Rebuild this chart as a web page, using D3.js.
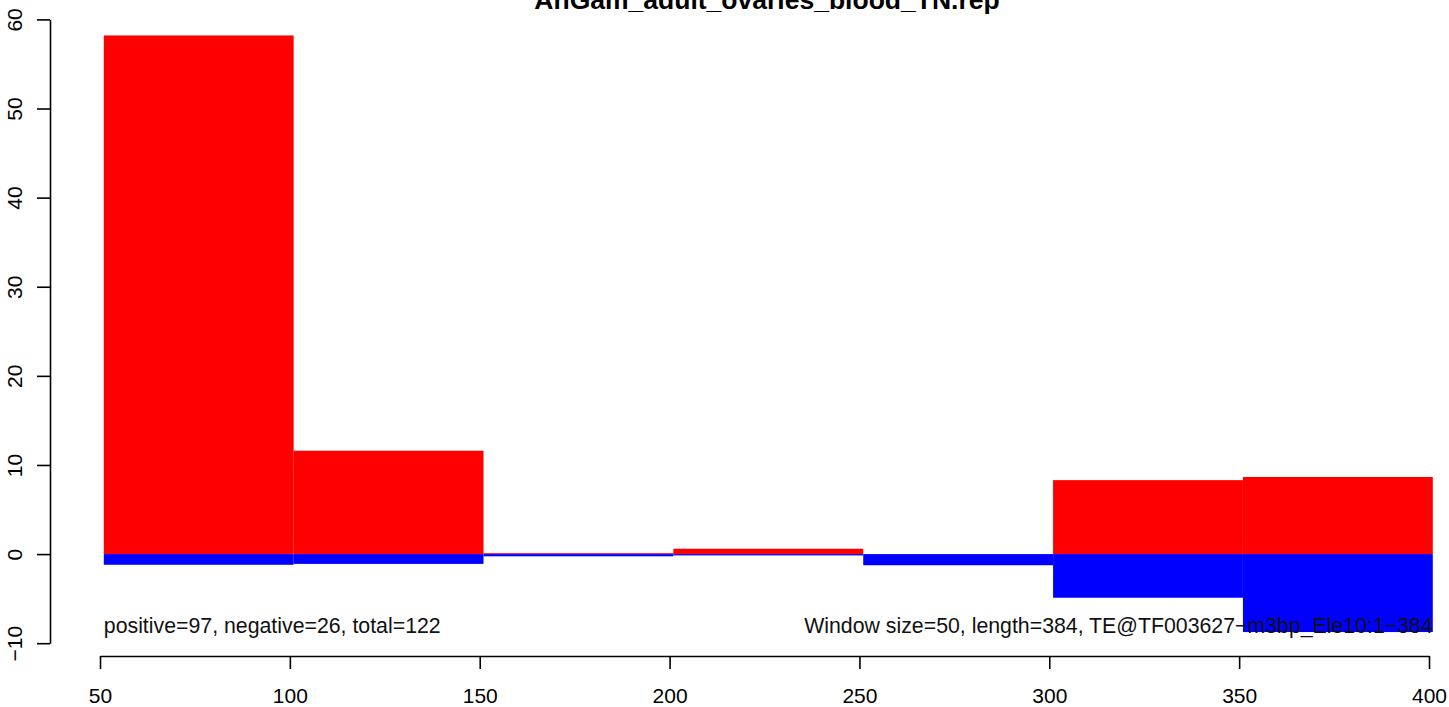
<!DOCTYPE html>
<html><head><meta charset="utf-8">
<script src="https://cdn.jsdelivr.net/npm/d3@7"></script>
<style>body{margin:0;background:#fff}svg{display:block}text{font-family:"Liberation Sans",Arial,sans-serif}</style>
</head><body>
<script>
const title = "AnGam_adult_ovaries_blood_TN.rep";
const windowStarts = [51, 101, 151, 201, 251, 301, 351];
const windowSize = 50;
const positiveValues = [58.2, 11.6, 0.1, 0.6, 0, 8.3, 8.65];
const negativeValues = [-1.2, -1.1, -0.25, -0.15, -1.25, -4.9, -8.75];
const xTicks = [50, 100, 150, 200, 250, 300, 350, 400];
const yTicks = [-10, 0, 10, 20, 30, 40, 50, 60];
const leftNote = "positive=97, negative=26, total=122";
const rightNote = "Window size=50, length=384, TE@TF003627\u2212m3bp_Ele10:1\u2212384";

const W = 1449, H = 707;
const svg = d3.select("body").append("svg").attr("width", W).attr("height", H);
const x = d3.scaleLinear().domain([50, 400]).range([100, 1429]);
const y = d3.scaleLinear().domain([-10, 60]).range([643.2, 19.4]);

const bars = windowStarts.map((s, i) => ({s, e: s + windowSize, p: positiveValues[i], n: negativeValues[i]}));

svg.append("g").selectAll("rect").data(bars).join("rect")
  .attr("x", d => x(d.s)).attr("width", d => x(d.e) - x(d.s))
  .attr("y", d => y(d.p)).attr("height", d => y(0) - y(d.p))
  .attr("fill", "#ff0000");
svg.append("g").selectAll("rect").data(bars).join("rect")
  .attr("x", d => x(d.s)).attr("width", d => x(d.e) - x(d.s))
  .attr("y", y(0)).attr("height", d => y(d.n) - y(0))
  .attr("fill", "#0000ff");

// x axis
const xa = svg.append("g").attr("transform", "translate(0,656)")
  .call(d3.axisBottom(x).tickValues(xTicks).tickSize(13).tickPadding(19).tickSizeOuter(0).tickFormat(d3.format("d")));
xa.select(".domain").attr("stroke", "#000").attr("stroke-width", 1.6);
xa.selectAll(".tick line").attr("stroke", "#000").attr("stroke-width", 1.6);
xa.selectAll(".tick text").attr("font-size", 21).attr("fill", "#000")
  .attr("font-family", "Liberation Sans, Arial, sans-serif");

// y axis
const ya = svg.append("g").attr("transform", "translate(50,0)")
  .call(d3.axisLeft(y).tickValues(yTicks).tickSize(13).tickSizeOuter(0).tickFormat(d => d < 0 ? "\u2212" + Math.abs(d) : d));
ya.select(".domain").attr("stroke", "#000").attr("stroke-width", 1.6);
ya.selectAll(".tick line").attr("stroke", "#000").attr("stroke-width", 1.6);
ya.selectAll(".tick text").attr("font-size", 21).attr("fill", "#000")
  .attr("font-family", "Liberation Sans, Arial, sans-serif")
  .attr("x", null).attr("dy", null)
  .attr("transform", "translate(-28.5,0) rotate(-90)")
  .attr("text-anchor", "middle");

// notes
svg.append("text").attr("x", x(51)).attr("y", 633).attr("font-size", 21.3).attr("fill", "#111").text(leftNote);
svg.append("text").attr("x", x(401)).attr("y", 633).attr("font-size", 21.3).attr("fill", "#111")
  .attr("text-anchor", "end").text(rightNote);

// title
svg.append("text").attr("x", 767).attr("y", 9).attr("font-size", 26.5).attr("font-weight", "bold")
  .attr("text-anchor", "middle").attr("fill", "#000").text(title);
</script>
</body></html>
